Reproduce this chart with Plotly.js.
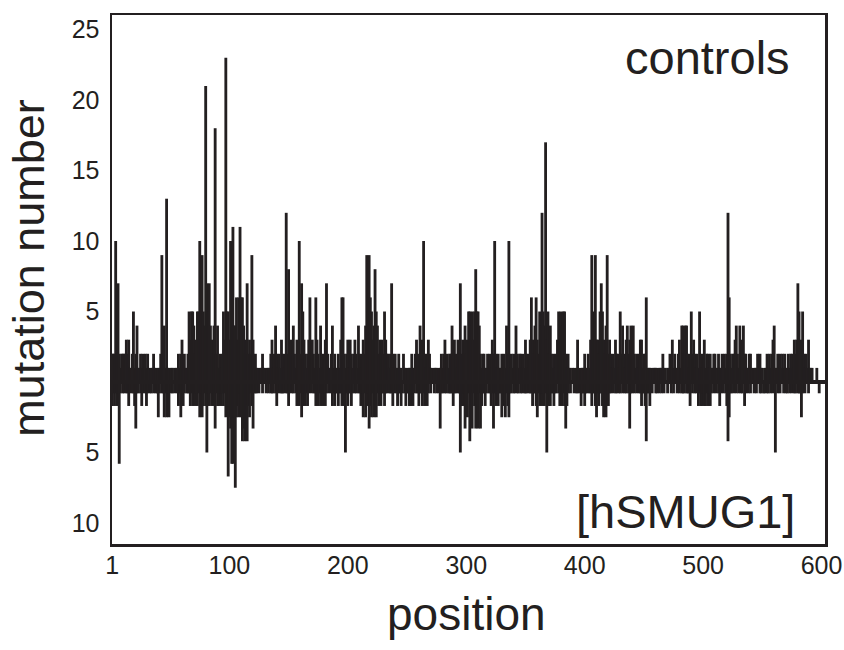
<!DOCTYPE html>
<html>
<head>
<meta charset="utf-8">
<script src="https://cdn.plot.ly/plotly-3.0.1.min.js"></script>
<style>html,body{margin:0;padding:0;background:#fff;}#chart{width:844px;height:650px;}</style>
</head>
<body>
<div id="chart"></div>
<script>
// mutation number per position, controls (upward)
const controls = [
2,2,2,10,2,7,2,1,2,2, 2,2,3,2,3,1,1,2,5,1,
2,4,1,1,2,1,2,1,2,1, 2,1,0,1,1,2,1,1,0,1,
1,2,9,2,4,1,13,1,1,0, 1,1,0,1,1,1,2,1,2,3,
1,2,1,1,2,5,3,5,5,4, 2,3,5,5,10,5,9,5,4,21,
7,5,7,4,3,2,4,18,2,4, 1,2,1,2,5,3,23,5,5,3,
10,5,11,4,4,6,3,6,11,6, 6,4,2,3,7,2,3,2,9,3,
1,2,1,1,0,1,1,2,1,1, 0,1,1,1,2,3,1,2,4,2,
1,2,1,3,2,1,2,12,2,8, 2,3,2,4,2,1,3,2,10,2,
7,5,3,2,1,2,3,6,2,3, 2,1,6,3,2,1,4,2,1,2,
3,7,2,1,1,2,4,1,2,1, 1,2,1,3,6,6,2,1,2,3,
1,3,2,1,2,3,2,1,4,2, 1,2,3,2,4,9,5,9,6,5,
3,4,8,5,4,2,3,2,3,2, 5,3,2,2,1,2,7,2,1,2,
1,1,2,1,1,0,2,1,1,0, 1,1,1,2,1,1,2,3,2,1,
4,2,3,10,2,1,2,3,2,1, 1,0,1,1,1,0,1,1,2,1,
2,3,1,2,1,2,2,4,2,3, 2,1,3,2,7,2,3,2,4,2,
3,5,5,4,5,3,5,8,5,5, 4,2,1,2,2,1,1,2,1,2,
1,3,2,10,2,1,2,1,1,2, 1,2,1,4,2,10,1,2,1,2,
1,4,2,1,2,2,1,2,1,3, 2,1,2,3,6,3,2,4,6,3,
2,5,4,12,5,4,17,3,5,2, 4,2,1,2,1,2,3,5,3,5,
4,5,5,2,1,2,1,1,0,1, 1,0,1,3,1,0,1,1,1,2,
1,1,2,1,3,9,5,3,9,3, 3,2,5,7,5,3,2,4,9,2,
3,2,1,2,1,3,2,2,1,5, 2,4,2,1,3,4,2,3,4,2,
4,2,1,2,1,2,3,3,1,2, 2,6,1,1,1,1,0,1,1,1,
1,0,1,1,1,2,1,1,0,1, 1,2,1,3,1,2,1,1,2,3,
1,4,4,2,4,4,2,1,2,5, 2,3,2,1,2,1,5,2,1,2,
3,1,2,2,1,2,1,1,2,2, 1,1,2,1,1,2,1,2,1,2,
12,6,2,1,2,2,3,4,2,1, 4,2,3,4,2,2,1,1,2,2,
1,0,1,1,1,2,1,2,1,1, 0,1,1,2,1,2,1,2,3,4,
1,1,2,1,2,1,2,1,2,1, 1,2,1,2,2,1,3,2,3,7,
5,2,3,5,2,1,2,1,3,1, 1,1,0,0,0,1,0,0,0,0
];
// mutation number per position, [hSMUG1] (drawn below zero)
const hsmug1 = [
-1.7,-0.8,-1.7,-0.8,-1.7,-0.8,-5.8,-0.8,0,-0.8, -0.8,0,-0.8,-0.8,-1.7,-0.8,0,-0.8,-0.8,-1.7,
-3.3,-0.8,-0.8,0,-0.8,-1.7,-0.8,0,-0.8,-1.7, -0.8,0,-0.8,-0.8,0,-0.8,0,-0.8,-0.8,-2.5,
-0.8,0,-0.8,-0.8,-2.5,-0.8,-2.5,-0.8,-2.5,0, -0.8,-0.8,0,-0.8,0,-0.8,-1.7,-0.8,-2.5,-0.8,
-1.7,-0.8,0,-0.8,-0.8,-0.8,-1.7,-0.8,-1.7,-0.8, -1.7,-0.8,-1.7,-0.8,-2.5,-0.8,-2.5,-1.7,-0.8,-1.7,
-5,-0.8,-1.7,-0.8,-1.7,-0.8,-1.7,-3.3,-0.8,-1.7, -1.7,-0.8,-1.7,-0.8,-1.7,-0.8,-2.5,-1.7,-6.7,-2.5,
-3.3,-5.8,-5.8,-2.5,-7.5,-2.5,-1.7,-2.5,-0.8,-2.5, -4.2,-3.3,-4.2,-3.3,-4.2,-1.7,-2.5,-0.8,-1.7,-3.3,
-0.8,-0.8,-0.8,0,-0.8,0,0,-0.8,0,0, -0.8,0,-0.8,0,-0.8,-0.8,-0.8,0,-0.8,-1.7,
-0.8,0,-0.8,-0.8,-0.8,-0.8,0,-0.8,-0.8,-1.7, -0.8,0,-0.8,-0.8,0,-0.8,-1.7,-0.8,-1.7,-0.8,
-2.5,-1.7,-0.8,-1.7,-0.8,-1.7,-0.8,0,-0.8,0, -0.8,-0.8,-1.7,-0.8,-1.7,-0.8,-1.7,-0.8,-1.7,-0.8,
-1.7,-0.8,0,-0.8,0,-0.8,-1.7,-0.8,-1.7,-0.8, -0.8,-1.7,-0.8,-0.8,-1.7,-0.8,-1.7,-5,-0.8,-1.7,
-0.8,-0.8,-1.7,-0.8,0,-0.8,-0.8,0,-0.8,-0.8, -1.7,-0.8,-2.5,-0.8,-2.5,-1.7,-0.8,-3.3,-1.7,-2.5,
-0.8,-2.5,-1.7,-2.5,-0.8,-1.7,-0.8,-1.7,-0.8,-0.8, -1.7,-0.8,-0.8,0,-0.8,-0.8,-0.8,-1.7,-0.8,0,
-0.8,-1.7,-0.8,-0.8,-1.7,-0.8,0,-0.8,-1.7,-0.8, -0.8,-1.7,-1.7,-0.8,-1.7,-0.8,0,-0.8,-0.8,-1.7,
-0.8,-0.8,-1.7,-0.8,-1.7,-0.8,-1.7,-0.8,0,-0.8, 0,0,-0.8,0,-0.8,0,-0.8,-3.3,-0.8,-0.8,
0,-0.8,-0.8,0,-0.8,-0.8,-0.8,-0.8,-1.7,-0.8, -0.8,0,-0.8,-0.8,-5,-1.7,-1.7,-0.8,-3.3,-1.7,
-2.5,-0.8,-4.2,-1.7,-3.3,-0.8,-1.7,-3.3,-1.7,-3.3, -0.8,-3.3,-1.7,-0.8,-0.8,-1.7,-0.8,0,-0.8,-0.8,
-1.7,-0.8,-3.3,-0.8,-1.7,-0.8,-1.7,-0.8,-0.8,-2.5, -0.8,-1.7,-2.5,-0.8,-1.7,-2.5,-0.8,-0.8,0,-0.8,
-0.8,0,-0.8,-0.8,0,-0.8,-0.8,0,-0.8,-0.8, -0.8,0,-0.8,-0.8,-0.8,-1.7,-0.8,-0.8,-1.7,-2.5,
-0.8,-1.7,-0.8,-1.7,-0.8,-1.7,-0.8,-5,-0.8,-1.7, -1.7,-0.8,-0.8,-1.7,-0.8,-0.8,0,-0.8,-1.7,-0.8,
-1.7,-0.8,-1.7,-3.3,-1.7,-0.8,0,-0.8,0,0, -0.8,0,-0.8,-0.8,0,-0.8,-1.7,-0.8,-0.8,-1.7,
-0.8,-0.8,0,-0.8,-0.8,-1.7,-0.8,-0.8,-1.7,-2.5, -0.8,-1.7,-0.8,-0.8,-1.7,-2.5,-1.7,-2.5,-0.8,-1.7,
-0.8,-0.8,0,-0.8,0,-0.8,-0.8,0,-0.8,-0.8, 0,-0.8,0,-0.8,-0.8,0,-0.8,-3.3,-0.8,-0.8,
0,-0.8,0,-0.8,0,-0.8,-0.8,-1.7,-0.8,-0.8, -1.7,-4.2,-0.8,-0.8,-1.7,0,-0.8,0,0,-0.8,
-0.8,0,-0.8,0,-0.8,0,-0.8,0,0,-0.8, 0,0,-0.8,0,-0.8,0,0,-0.8,0,-0.8,
0,-0.8,-0.8,-0.8,0,-0.8,-0.8,-0.8,-1.7,0, -0.8,0,-0.8,-0.8,0,-1.7,-0.8,-1.7,-1.7,-0.8,
-1.7,-1.7,-0.8,-1.7,-0.8,-1.7,-0.8,0,-0.8,0, -0.8,0,-0.8,-1.7,-0.8,0,-0.8,0,-0.8,-1.7,
-4.2,-2.5,-0.8,-0.8,0,-0.8,0,-0.8,0,-0.8, 0,-0.8,-0.8,0,-1.7,-0.8,0,-0.8,0,-0.8,
0,0,-0.8,0,-0.8,0,0,-0.8,-0.8,0, -0.8,-0.8,0,-0.8,-0.8,0,-0.8,0,-0.8,0,
-5,0,-0.8,0,-0.8,0,0,-0.8,0,-0.8, -0.8,0,-0.8,0,-0.8,0,-0.8,-0.8,0,-0.8,
-0.8,-0.8,-2.5,-0.8,0,-0.8,0,0,-0.8,0, 0,0,0,0,0,0,0,-0.8,0,0
];
const positions = controls.map((_, i) => i + 1);
const xTickVals = [1, 100, 200, 300, 400, 500, 600];
const yTickVals = [-10, -5, 5, 10, 15, 20, 25];
const yTickText = ['10', '5', '5', '10', '15', '20', '25'];

const ink = '#231f20';
const font = 'Liberation Sans, Arial, Helvetica, sans-serif';

const traces = [
  {type: 'bar', x: positions, y: controls, width: 2.4, marker: {color: ink, line: {width: 0}}, hoverinfo: 'x+y'},
  {type: 'bar', x: positions, y: hsmug1, width: 2.4, marker: {color: ink, line: {width: 0}}, hoverinfo: 'x+y'}
];

const layout = {
  width: 844, height: 650,
  margin: {l: 112, r: 19, t: 15, b: 106},
  paper_bgcolor: '#fff', plot_bgcolor: '#fff',
  showlegend: false,
  barmode: 'overlay',
  font: {family: font, color: ink},
  xaxis: {
    range: [0.9, 602.9], tickvals: xTickVals, ticks: '', showgrid: false, zeroline: false,
    showline: true, mirror: true, linecolor: ink, linewidth: 2.5,
    tickfont: {family: font, size: 25, color: ink}, ticklabelstandoff: -3
  },
  yaxis: {
    range: [-11.49, 26.03], tickvals: yTickVals, ticktext: yTickText, ticks: '',
    showgrid: false, zeroline: false, showline: true, mirror: true, linecolor: ink, linewidth: 2.5,
    tickfont: {family: font, size: 25, color: ink}, ticklabelstandoff: 5
  },
  shapes: [
    {type: 'line', xref: 'paper', yref: 'y', x0: 0, x1: 1, y0: 0, y1: 0, line: {color: ink, width: 4}}
  ],
  annotations: [
    {text: 'position', xref: 'paper', yref: 'paper', x: 0.497, y: -0.133, xanchor: 'center', yanchor: 'middle', showarrow: false, font: {family: font, size: 46, color: ink}},
    {text: 'mutation number', xref: 'paper', yref: 'paper', x: -0.1164, y: 0.522, xanchor: 'center', yanchor: 'middle', textangle: -90, showarrow: false, font: {family: font, size: 45, color: ink}},
    {text: 'controls', xref: 'paper', yref: 'paper', x: 0.9537, y: 0.9206, xanchor: 'right', yanchor: 'middle', showarrow: false, font: {family: font, size: 47, color: ink}},
    {text: '[hSMUG1]', xref: 'paper', yref: 'paper', x: 0.9607, y: 0.0605, xanchor: 'right', yanchor: 'middle', showarrow: false, font: {family: font, size: 47, color: ink}}
  ]
};

Plotly.newPlot('chart', traces, layout, {staticPlot: true, displayModeBar: false});
</script>
</body>
</html>
